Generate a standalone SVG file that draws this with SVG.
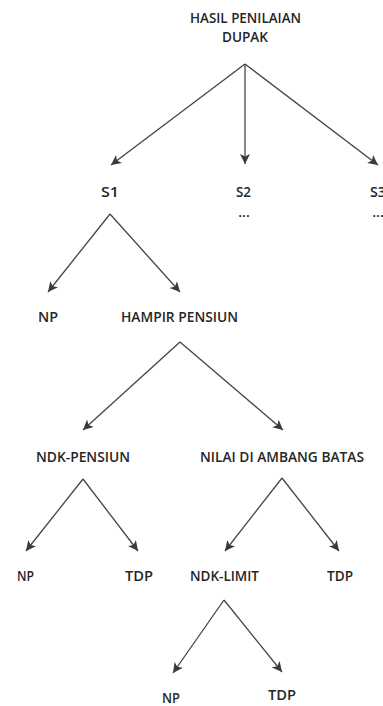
<svg xmlns="http://www.w3.org/2000/svg" width="383" height="706" viewBox="0 0 383 706">
<defs>
<style>
text{font-family:"Open Sans","Liberation Sans",sans-serif;font-size:14px;font-weight:600;fill:#262626;text-anchor:middle}
.c line{stroke:#444;stroke-width:1.3;fill:none}
</style>
<marker id="ah" viewBox="0 0 10 10" refX="10" refY="5" markerWidth="11" markerHeight="10" markerUnits="userSpaceOnUse" orient="auto">
<path d="M0,0 L10,5 L0,10 L2.5,5 Z" fill="#3a3a3a"/>
</marker>
</defs>
<rect width="383" height="706" fill="#fff"/>
<g id="connectors" class="c">
<line x1="245" y1="64" x2="111" y2="165" marker-end="url(#ah)"/>
<line x1="245" y1="64" x2="245" y2="164" marker-end="url(#ah)"/>
<line x1="245" y1="64" x2="378" y2="165" marker-end="url(#ah)"/>
<line x1="110" y1="214" x2="48" y2="292" marker-end="url(#ah)"/>
<line x1="110" y1="214" x2="180" y2="292" marker-end="url(#ah)"/>
<line x1="180" y1="342" x2="83" y2="430" marker-end="url(#ah)"/>
<line x1="180" y1="342" x2="283" y2="430" marker-end="url(#ah)"/>
<line x1="83" y1="479" x2="26" y2="551" marker-end="url(#ah)"/>
<line x1="83" y1="479" x2="138" y2="551" marker-end="url(#ah)"/>
<line x1="282" y1="478" x2="225" y2="551" marker-end="url(#ah)"/>
<line x1="282" y1="478" x2="339" y2="551" marker-end="url(#ah)"/>
<line x1="224" y1="600" x2="173" y2="673" marker-end="url(#ah)"/>
<line x1="224" y1="600" x2="282" y2="672" marker-end="url(#ah)"/>
</g>
<g id="root"><text x="245.5" y="23" textLength="111" lengthAdjust="spacingAndGlyphs">HASIL PENILAIAN</text><text x="245" y="42" textLength="46" lengthAdjust="spacingAndGlyphs">DUPAK</text></g>
<g id="s1"><text x="110" y="197" textLength="18" lengthAdjust="spacingAndGlyphs">S1</text></g>
<g id="s2"><text x="243.5" y="197" textLength="15" lengthAdjust="spacingAndGlyphs">S2</text><text x="244" y="217">...</text></g>
<g id="s3"><text x="378" y="197" textLength="16" lengthAdjust="spacingAndGlyphs">S3</text><text x="378" y="217">...</text></g>
<g id="np1"><text x="48" y="322" textLength="20" lengthAdjust="spacingAndGlyphs">NP</text></g>
<g id="hampir"><text x="179.5" y="322" textLength="117" lengthAdjust="spacingAndGlyphs">HAMPIR PENSIUN</text></g>
<g id="ndkpensiun"><text x="83" y="462" textLength="94" lengthAdjust="spacingAndGlyphs">NDK-PENSIUN</text></g>
<g id="nilai"><text x="282" y="462" textLength="164" lengthAdjust="spacingAndGlyphs">NILAI DI AMBANG BATAS</text></g>
<g id="np2"><text x="25.5" y="581" textLength="17" lengthAdjust="spacingAndGlyphs">NP</text></g>
<g id="tdp1"><text x="139" y="581" textLength="28" lengthAdjust="spacingAndGlyphs">TDP</text></g>
<g id="ndklimit"><text x="224.5" y="581" textLength="69" lengthAdjust="spacingAndGlyphs">NDK-LIMIT</text></g>
<g id="tdp2"><text x="340" y="581" textLength="26" lengthAdjust="spacingAndGlyphs">TDP</text></g>
<g id="np3"><text x="171" y="703" textLength="18" lengthAdjust="spacingAndGlyphs">NP</text></g>
<g id="tdp3"><text x="282" y="700" textLength="28" lengthAdjust="spacingAndGlyphs">TDP</text></g>
</svg>
